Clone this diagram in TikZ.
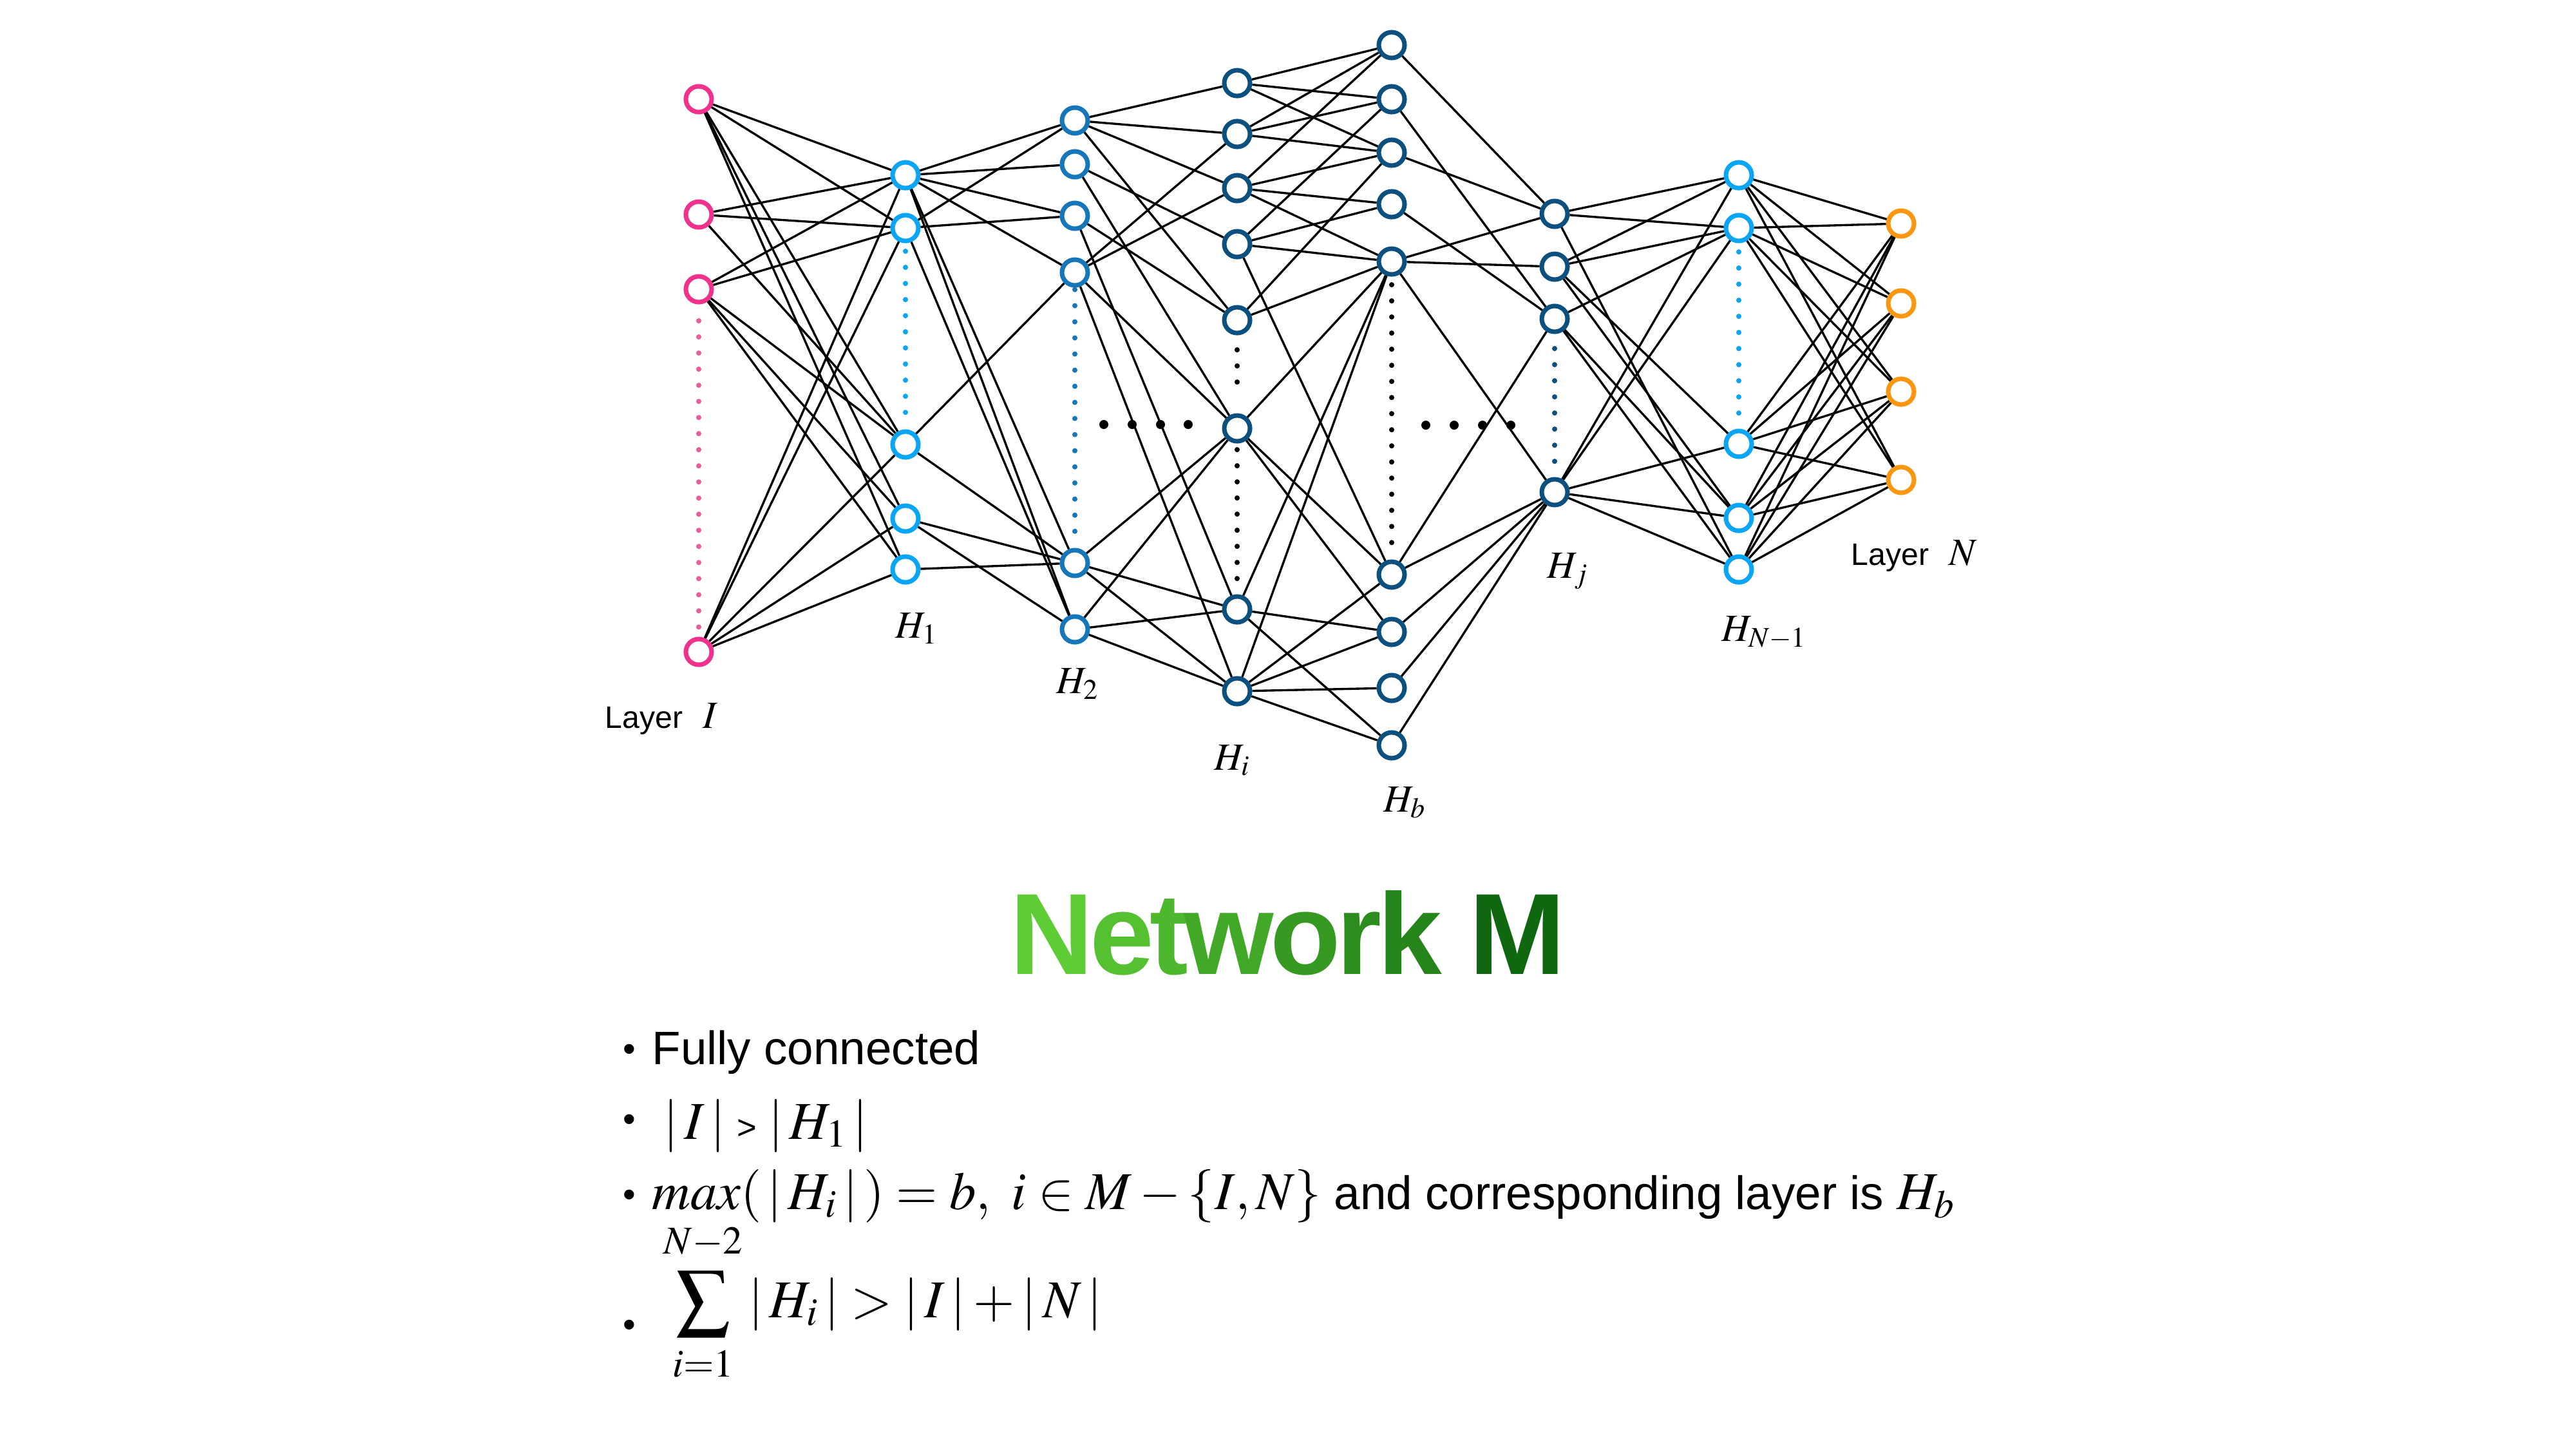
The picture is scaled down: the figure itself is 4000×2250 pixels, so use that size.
\documentclass[tikz,border=0pt]{standalone}
\usepackage{mathptmx}
\usepackage[no-math]{fontspec}
\setmainfont{Liberation Sans}
\usetikzlibrary{calc}

\definecolor{inpink}{RGB}{240,50,140}
\definecolor{dotpink}{RGB}{236,92,156}
\definecolor{skyblue}{RGB}{10,165,245}
\definecolor{midblue}{RGB}{22,118,186}
\definecolor{deepblue}{RGB}{12,80,128}
\definecolor{outorange}{RGB}{250,150,15}
\definecolor{gleft}{RGB}{100,212,55}
\definecolor{gright}{RGB}{5,92,12}

% size used for the formulas in the property list
\newcommand{\eqsize}{\fontsize{23.5pt}{28pt}\selectfont}
% tight letter fit for the heading
\newcommand{\tk}{\kern-0.035em}

\begin{document}
\begin{tikzpicture}[x=0.01cm,y=-0.01cm,
  neuron/.style={circle,draw,line width=2pt,fill=white,minimum size=0.4cm,inner sep=0pt},
  inunit/.style={neuron,draw=inpink},
  skyunit/.style={neuron,draw=skyblue},
  midunit/.style={neuron,draw=midblue},
  deepunit/.style={neuron,draw=deepblue},
  outunit/.style={neuron,draw=outorange},
  link/.style={line width=0.95pt,draw=black},
  dotcol/.style={line width=2.3pt,line cap=round,dash pattern=on 0pt off 0.25cm},
  gapdot/.style={circle,fill=black,inner sep=0pt,minimum size=0.14cm},
  layername/.style={anchor=base west,inner sep=0pt,font=\fontsize{17pt}{20pt}\selectfont},
  sidename/.style={anchor=base west,inner sep=0pt,font=\fontsize{13.7pt}{16pt}\selectfont},
  bodyline/.style={anchor=base west,inner sep=0pt,font=\fontsize{20.7pt}{25pt}\selectfont},
  bulletmark/.style={inner sep=0pt,font=\fontsize{16pt}{20pt}\selectfont}
]
\useasboundingbox[fill=white] (0,0) rectangle (4000,2250);

% ---- layers ----
\foreach \k/\yy in {1/154,2/333,3/449,4/1012}
  \node[inunit] (I\k) at (1085,\yy) {};
\foreach \k/\yy in {1/272,2/354,3/690,4/805,5/884}
  \node[skyunit] (A\k) at (1406,\yy) {};
\foreach \k/\yy in {1/187,2/255,3/335,4/423,5/874,6/977}
  \node[midunit] (B\k) at (1669,\yy) {};
\foreach \k/\yy in {1/129,2/208,3/292,4/379,5/497,6/665,7/946,8/1073}
  \node[deepunit] (C\k) at (1921,\yy) {};
\foreach \k/\yy in {1/70,2/154,3/237,4/317,5/406,6/892,7/981,8/1068,9/1157}
  \node[deepunit] (D\k) at (2161,\yy) {};
\foreach \k/\yy in {1/332,2/414,3/495,4/764}
  \node[deepunit] (E\k) at (2414,\yy) {};
\foreach \k/\yy in {1/272,2/354,3/689,4/804,5/884}
  \node[skyunit] (F\k) at (2700,\yy) {};
\foreach \k/\yy in {1/347,2/471,3/608,4/745}
  \node[outunit] (G\k) at (2952,\yy) {};

% ---- connections ----
\foreach \s/\t in {I1/A1,I1/A2,I1/A3,I1/A4,I1/A5,I2/A1,I2/A2,I2/A3,
                   I3/A1,I3/A2,I3/A3,I3/A4,I3/A5,I4/A1,I4/A2,I4/A3,I4/A4,I4/A5}
  \draw[link] (\s) -- (\t);
\foreach \s/\t in {A1/B1,A1/B2,A1/B3,A1/B4,A1/B5,A1/B6,A2/B1,A2/B3,A2/B6,
                   A3/B4,A3/B5,A4/B5,A4/B6,A5/B5}
  \draw[link] (\s) -- (\t);
\foreach \s/\t in {B1/C1,B1/C2,B1/C3,B1/C5,B2/C4,B2/C6,B3/C5,B3/C7,
                   B4/C2,B4/C3,B4/C6,B4/C8,B5/C6,B5/C7,B5/C8,B6/C6,B6/C7,B6/C8}
  \draw[link] (\s) -- (\t);
\foreach \s/\t in {C1/D1,C1/D2,C1/D3,C2/D1,C2/D2,C2/D3,C3/D1,C3/D3,C3/D4,C3/D5,
                   C4/D2,C4/D4,C4/D5,C4/D6,C5/D3,C5/D5,C6/D5,C6/D6,C6/D7,
                   C7/D5,C7/D7,C7/D9,C8/D5,C8/D6,C8/D7,C8/D8,C8/D9}
  \draw[link] (\s) -- (\t);
\foreach \s/\t in {D1/E1,D2/E3,D3/E1,D4/E3,D5/E1,D5/E2,D5/E4,D6/E3,D6/E4,
                   D7/E4,D8/E4,D9/E4}
  \draw[link] (\s) -- (\t);
\foreach \s/\t in {E1/F1,E1/F2,E1/F5,E2/F1,E2/F2,E2/F3,E2/F4,E3/F2,E3/F4,E3/F5,
                   E4/F1,E4/F2,E4/F3,E4/F4,E4/F5}
  \draw[link] (\s) -- (\t);
\foreach \s in {1,...,5}
  \foreach \t in {1,...,4}
    \draw[link] (F\s) -- (G\t);

% ---- elided units within a layer ----
\draw[dotcol,dotpink,shorten <=0.255cm,shorten >=0.135cm] (I3) -- (I4);
\draw[dotcol,skyblue,shorten <=0.125cm,shorten >=0.245cm] (A2) -- (A3);
\draw[dotcol,midblue,shorten <=0.03cm,shorten >=0.245cm] (B4) -- (B5);
\draw[dotcol,black,shorten <=0.225cm,shorten >=0.24cm] (C5) -- (C6);
\draw[dotcol,black,shorten <=0.095cm,shorten >=0.24cm] (C6) -- (C7);
\draw[dotcol,black,shorten <=0.125cm,shorten >=0.255cm] (D5) -- (D6);
\draw[dotcol,deepblue,shorten <=0.225cm,shorten >=0.24cm] (E3) -- (E4);
\draw[dotcol,skyblue,shorten <=0.135cm,shorten >=0.24cm] (F2) -- (F3);

% ---- elided layers ----
\foreach \k/\xx in {1/1714,2/1758,3/1802,4/1845}
  \node[gapdot] (gapL\k) at (\xx,659) {};
\foreach \k/\xx in {1/2214,2/2258,3/2302,4/2346}
  \node[gapdot] (gapR\k) at (\xx,660) {};

% ---- layer names ----
\node[sidename] (inname) at (939,1130) {Layer\hspace*{0.31cm}{\fontsize{17pt}{20pt}\selectfont$I$}};
\node[sidename] (outname) at (2874,877) {Layer\hspace*{0.31cm}{\fontsize{17pt}{20pt}\selectfont$N$}};
\node[layername] (h1name) at (1390,990) {$H_1$};
\node[layername] (h2name) at (1640,1076) {$H_2$};
\node[layername] (hiname) at (1885,1195) {$H_i$};
\node[layername] (hbname) at (2148,1260) {$H_b$};
\node[layername] (hjname) at (2402,897) {$H_j$};
\node[layername] (hnname) at (2673,995) {$H_{N-1}$};

% ---- title ----
\node[anchor=base,inner sep=0pt,font=\fontsize{51pt}{55pt}\selectfont\bfseries] (title) at (2000,1512)
  {\textcolor{gright!6!gleft}{N}\tk\textcolor{gright!16!gleft}{e}\tk\textcolor{gright!24!gleft}{t}\tk
   \textcolor{gright!36!gleft}{w}\tk\textcolor{gright!49!gleft}{o}\tk\textcolor{gright!59!gleft}{r}\tk
   \textcolor{gright!66!gleft}{k}\hspace{0.24em}\textcolor{gright!90!gleft}{M}};

% ---- properties ----
\node[bulletmark] (b1) at (977,1634) {•};
\node[bulletmark] (b2) at (977,1743) {•};
\node[bulletmark] (b3) at (977,1860) {•};
\node[bulletmark] (b4) at (977,2062) {•};
\node[bodyline] (p1) at (1012,1652) {Fully connected};
\node[bodyline] (p2) at (1030,1768)
  {{\eqsize$|\,I\,|$}\hspace{0.25em}{\fontsize{15pt}{18pt}\selectfont >}\hspace{0.25em}{\eqsize$|\,H_1\,|$}};
\node[bodyline] (p3) at (1012,1877)
  {{\eqsize$max(\,|\,H_i\,|\,) = b,\ i \in M - \{I, N\}$} and corresponding layer is {\eqsize$H_b$}};
\node[bodyline] (p4) at (1030,2045)
  {{\eqsize$\displaystyle\sum_{\raisebox{-0.15em}{$\scriptstyle i=1$}}^{\raisebox{0.12em}{$\scriptstyle N-2$}} |\,H_i\,| > |\,I\,| + |\,N\,|$}};
\end{tikzpicture}
\end{document}
